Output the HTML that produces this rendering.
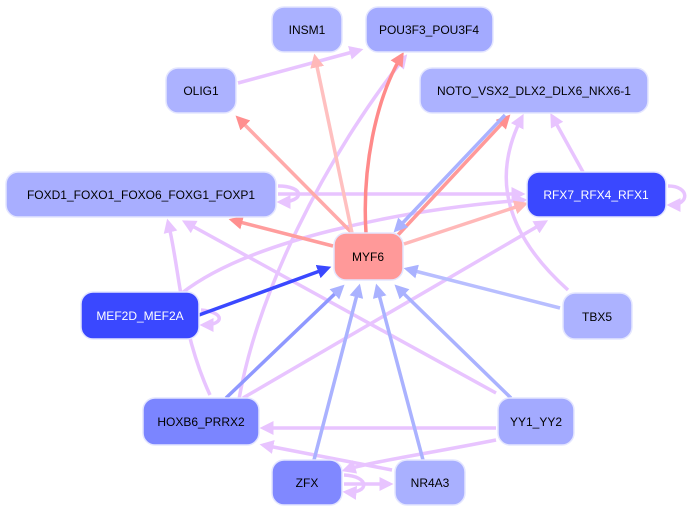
<html><body style="margin:0;background:#fff">
<svg width="692" height="512" viewBox="0 0 692 512" xmlns="http://www.w3.org/2000/svg" style="font-family:'Liberation Sans',sans-serif">
<defs>
<marker id="mp" markerWidth="4" markerHeight="4" refX="3" refY="2" orient="auto"><path d="M0,0L4,2L0,4z" fill="#ffb8b8"/></marker>
<marker id="mr" markerWidth="4" markerHeight="4" refX="3" refY="2" orient="auto"><path d="M0,0L4,2L0,4z" fill="#ff8f8f"/></marker>
<marker id="ml" markerWidth="4" markerHeight="4" refX="3" refY="2" orient="auto"><path d="M0,0L4,2L0,4z" fill="#e8c4ff"/></marker>
<marker id="mb" markerWidth="4" markerHeight="4" refX="3" refY="2" orient="auto"><path d="M0,0L4,2L0,4z" fill="#aab2ff"/></marker>
<marker id="md" markerWidth="4" markerHeight="4" refX="3" refY="2" orient="auto"><path d="M0,0L4,2L0,4z" fill="#3a48ff"/></marker>
</defs>
<g fill="none" stroke-width="3.5">
<path d="M238,83 L360,50" stroke="#e8c4ff" marker-end="url(#ml)"/>
<path d="M236,420 C250,300 330,150 405,57" stroke="#e8c4ff" marker-end="url(#ml)"/>
<path d="M210,395 C180,330 180,270 168,222" stroke="#e8c4ff" marker-end="url(#ml)"/>
<path d="M182,293 C250,240 400,210 524,200" stroke="#e8c4ff" marker-end="url(#ml)"/>
<path d="M278,194 L522,194" stroke="#e8c4ff" marker-end="url(#ml)"/>
<path d="M243,398 L545,222" stroke="#e8c4ff" marker-end="url(#ml)"/>
<path d="M496,393 L185,222" stroke="#e8c4ff" marker-end="url(#ml)"/>
<path d="M568,290 C490,220 500,160 522,117" stroke="#e8c4ff" marker-end="url(#ml)"/>
<path d="M583,172 L552,116" stroke="#e8c4ff" marker-end="url(#ml)"/>
<path d="M496,428 L263,428" stroke="#e8c4ff" marker-end="url(#ml)"/>
<path d="M496,440 C420,455 370,462 345,470" stroke="#e8c4ff" marker-end="url(#ml)"/>
<path d="M392,470 L263,445" stroke="#e8c4ff" marker-end="url(#ml)"/>
<path d="M344,484 L390,484" stroke="#e8c4ff" marker-end="url(#ml)"/>
<path d="M344,475 C370,476 370,494 346,492" stroke="#e8c4ff" marker-end="url(#ml)"/>
<path d="M278,186 C305,186 305,202 280,202" stroke="#e8c4ff" marker-end="url(#ml)"/>
<path d="M668,186 C690,186 690,205 670,205" stroke="#e8c4ff" marker-end="url(#ml)"/>
<path d="M201,310 C225,312 225,325 203,325" stroke="#e8c4ff" marker-end="url(#ml)"/>
<path d="M352,233 L238,118" stroke="#ffaaaa" marker-end="url(#mr)"/>
<path d="M352,233 L315,57" stroke="#ffc0c0" marker-end="url(#mp)"/>
<path d="M366,233 C362,170 375,100 402,55" stroke="#ff8a8a" marker-end="url(#mr)"/>
<path d="M333,246 L232,220" stroke="#ff9d9d" marker-end="url(#mr)"/>
<path d="M404,244 L525,204" stroke="#ffb8b8" marker-end="url(#mp)"/>
<path d="M398,235 L508,117" stroke="#ff9999" marker-end="url(#mr)"/>
<path d="M505,115 L396,230" stroke="#aab2ff" marker-end="url(#mb)"/>
<path d="M199,315 L328,268" stroke="#3a48ff" marker-end="url(#md)"/>
<path d="M226,398 L342,287" stroke="#8f98ff" marker-end="url(#mb)"/>
<path d="M314,460 L359,287" stroke="#aab2ff" marker-end="url(#mb)"/>
<path d="M423,460 L377,287" stroke="#aab2ff" marker-end="url(#mb)"/>
<path d="M511,398 L397,287" stroke="#aab2ff" marker-end="url(#mb)"/>
<path d="M560,308 L407,269" stroke="#b8beff" marker-end="url(#mb)"/>
</g>
<g stroke="#e4e6ff" stroke-width="1.5">
<rect x="272" y="7" width="70" height="45" rx="12" fill="#aab1ff"/>
<rect x="366" y="7" width="127" height="45" rx="12" fill="#a3aaff"/>
<rect x="166" y="68" width="70" height="45" rx="12" fill="#acb2ff"/>
<rect x="420" y="68" width="228" height="45" rx="12" fill="#acb2ff"/>
<rect x="6" y="172" width="270" height="45" rx="12" fill="#a8aeff"/>
<rect x="527" y="172" width="139" height="45" rx="12" fill="#3a48ff"/>
<rect x="334" y="233" width="69" height="47" rx="12" fill="#ff9999"/>
<rect x="81" y="292" width="118" height="47" rx="12" fill="#3a48ff"/>
<rect x="563" y="293" width="69" height="46" rx="12" fill="#acb2ff"/>
<rect x="143" y="398" width="116" height="47" rx="12" fill="#7b85ff"/>
<rect x="498" y="398" width="76" height="47" rx="12" fill="#a3aaff"/>
<rect x="272" y="460" width="70" height="45" rx="12" fill="#8088ff"/>
<rect x="395" y="460" width="70" height="45" rx="12" fill="#a9b0ff"/>
</g>
<g font-size="12" text-anchor="middle" fill="#000">
<text x="307" y="34">INSM1</text>
<text x="429" y="34">POU3F3_POU3F4</text>
<text x="201" y="95">OLIG1</text>
<text x="534" y="95">NOTO_VSX2_DLX2_DLX6_NKX6-1</text>
<text x="141" y="199">FOXD1_FOXO1_FOXO6_FOXG1_FOXP1</text>
<text x="596" y="199" fill="#fff">RFX7_RFX4_RFX1</text>
<text x="368" y="261">MYF6</text>
<text x="140" y="320" fill="#fff">MEF2D_MEF2A</text>
<text x="597" y="321">TBX5</text>
<text x="201" y="426">HOXB6_PRRX2</text>
<text x="536" y="426">YY1_YY2</text>
<text x="307" y="487">ZFX</text>
<text x="430" y="487">NR4A3</text>
</g>
</svg>
</body></html>
